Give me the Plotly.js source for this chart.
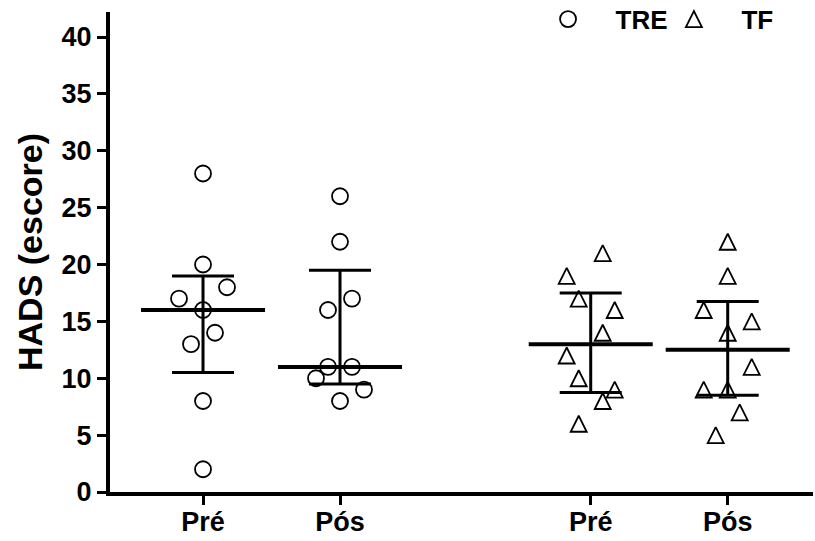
<!DOCTYPE html>
<html>
<head>
<meta charset="utf-8">
<script src="https://cdn.plot.ly/plotly-3.0.1.min.js"></script>
<style>
  html, body { margin: 0; padding: 0; background: #fff; }
  #chart { width: 815px; height: 541px; }
</style>
</head>
<body>
<div id="chart"></div>
<script>
// Column labels along the x axis (TRE group, then TF group)
const tickLabels = ['Pré', 'Pós', 'Pré', 'Pós'];

// HADS scores per subject
const trePre = [28, 20, 18, 17, 16, 14, 13, 8, 2];
const trePos = [26, 22, 17, 16, 11, 11, 10, 9, 8];
const tfPre  = [21, 19, 17, 16, 14, 12, 10, 9, 8, 6];
const tfPos  = [22, 19, 16, 15, 14, 11, 9, 9, 7, 5];

// Median and interquartile range of each column
const medians = [16, 11, 13, 12.5];
const q1 = [10.5, 9.5, 8.75, 8.5];
const q3 = [19, 19.5, 17.5, 16.75];

// Layout: column centres and horizontal spread of overlapping points
const colX = [1, 2, 3.83, 4.83];
const step = 0.0876;
const spreadTrePre = [0, 0, 2, -2, 0, 1, -1, 0, 0];
const spreadTrePos = [0, 0, 1, -1, -1, 1, -2, 2, 0];
const spreadTfPre  = [1, -2, -1, 2, 1, -2, -1, 2, 1, -1];
const spreadTfPos  = [0, 0, -2, 2, 0, 2, -2, 0, 1, -1];

const place = (c, spread) => spread.map(s => colX[c] + s * step);

const FONT = 'Liberation Sans, Arial, Helvetica, sans-serif';
const black = '#000';

const circle = {
  symbol: 'circle', size: 16, color: '#fff',
  line: { color: black, width: 1.8 }
};
// open triangle as tall as it is wide, centred on its point
const triangle = {
  symbol: 'arrow-down', angle: 180, size: 16, standoff: 8, color: '#fff',
  line: { color: black, width: 1.8 }
};
// the legend lays arrow symbols out differently, so its key gets its own style
const triangleKey = {
  symbol: 'arrow-up', size: 16, standoff: 8, color: '#fff',
  line: { color: black, width: 1.8 }
};

const traces = [
  {
    type: 'scatter', mode: 'markers', name: 'TRE', legend: 'legend',
    x: place(0, spreadTrePre).concat(place(1, spreadTrePos)),
    y: trePre.concat(trePos),
    marker: circle, cliponaxis: false
  },
  {
    type: 'scatter', mode: 'markers', name: 'TF', showlegend: false,
    x: place(2, spreadTfPre).concat(place(3, spreadTfPos)),
    y: tfPre.concat(tfPos),
    marker: triangle, cliponaxis: false
  },
  {
    // legend key for the TF series
    type: 'scatter', mode: 'markers', name: 'TF', legend: 'legend2',
    x: [null], y: [null], marker: triangleKey
  },
  {
    // median line with interquartile whiskers
    type: 'scatter', mode: 'markers', showlegend: false, hoverinfo: 'skip',
    x: colX, y: medians,
    marker: { size: 1, color: 'rgba(0,0,0,0)' },
    error_y: {
      type: 'data', symmetric: false,
      array: q3.map((v, i) => v - medians[i]),
      arrayminus: q1.map((v, i) => medians[i] - v),
      width: 31, thickness: 3, color: black
    },
    error_x: { type: 'constant', value: 0.4526, width: 0, thickness: 4, color: black },
    cliponaxis: false
  }
];

const legendCommon = {
  orientation: 'h', xanchor: 'left', yanchor: 'middle', y: 0.985,
  itemwidth: 85, bgcolor: 'rgba(0,0,0,0)', borderwidth: 0,
  font: { family: FONT, size: 26, weight: 'bold', color: black }
};

const layout = {
  width: 815, height: 541,
  margin: { l: 110, r: 2, t: 12, b: 49, autoexpand: false },
  paper_bgcolor: '#fff', plot_bgcolor: '#fff',
  font: { family: FONT, color: black },
  xaxis: {
    range: [0.321, 5.4526], showgrid: false, zeroline: false,
    showline: true, linewidth: 4, linecolor: black,
    tickmode: 'array', tickvals: colX, ticktext: tickLabels,
    ticks: 'outside', ticklen: 9, tickwidth: 3, tickcolor: black,
    ticklabelstandoff: -6,
    tickfont: { family: FONT, size: 27, weight: 'bold', color: black },
    fixedrange: true
  },
  yaxis: {
    range: [0, 42.2], showgrid: false, zeroline: false,
    showline: true, linewidth: 4, linecolor: black,
    tickmode: 'linear', tick0: 0, dtick: 5,
    ticks: 'outside', ticklen: 9, tickwidth: 3, tickcolor: black,
    tickfont: { family: FONT, size: 27, weight: 'bold', color: black },
    title: { text: 'HADS (escore)', standoff: 10,
             font: { family: FONT, size: 34, weight: 'bold', color: black } },
    fixedrange: true
  },
  legend: Object.assign({ x: 0.584 }, legendCommon),
  legend2: Object.assign({ x: 0.763 }, legendCommon),
  showlegend: true
};

Plotly.newPlot('chart', traces, layout, { staticPlot: true, displayModeBar: false });
</script>
</body>
</html>
